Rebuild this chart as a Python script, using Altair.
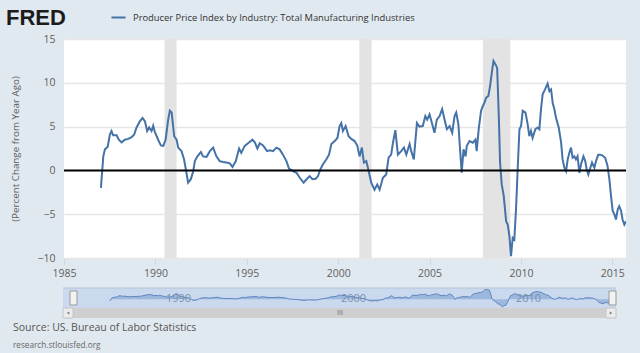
import altair as alt
import pandas as pd

# ---------------- data ----------------
years = [1987.02, 1987.15, 1987.24, 1987.39, 1987.51, 1987.6, 1987.69, 1987.88, 1988.0, 1988.15,
         1988.33, 1988.51, 1988.7, 1988.84, 1988.97, 1989.15, 1989.3, 1989.43, 1989.55, 1989.66,
         1989.79, 1989.88, 1989.97, 1990.15, 1990.3, 1990.43, 1990.56, 1990.7, 1990.79, 1990.89,
         1991.03, 1991.16, 1991.25, 1991.43, 1991.57, 1991.7, 1991.79, 1991.94, 1992.07, 1992.16,
         1992.3, 1992.49, 1992.61, 1992.8, 1992.98, 1993.16, 1993.34, 1993.52, 1993.7, 1993.89,
         1994.07, 1994.22, 1994.4, 1994.58, 1994.7, 1994.89, 1995.07, 1995.31, 1995.44, 1995.58,
         1995.71, 1995.89, 1995.98, 1996.11, 1996.26, 1996.44, 1996.62, 1996.8, 1996.98, 1997.17,
         1997.31, 1997.53, 1997.72, 1997.9, 1998.11, 1998.3, 1998.44, 1998.59, 1998.77, 1998.9,
         1999.02, 1999.17, 1999.35, 1999.5, 1999.63, 1999.81, 1999.96, 2000.08, 2000.17, 2000.26,
         2000.41, 2000.57, 2000.72, 2000.9, 2001.05, 2001.17, 2001.3, 2001.41, 2001.54, 2001.67,
         2001.81, 2001.99, 2002.14, 2002.27, 2002.45, 2002.63, 2002.76, 2002.9, 2003.0, 2003.13,
         2003.27, 2003.45, 2003.6, 2003.73, 2003.91, 2004.0, 2004.14, 2004.31, 2004.45, 2004.63,
         2004.77, 2004.87, 2005.0, 2005.13, 2005.27, 2005.4, 2005.55, 2005.69, 2005.82, 2005.95,
         2006.1, 2006.24, 2006.37, 2006.46, 2006.58, 2006.67, 2006.76, 2006.86, 2006.97, 2007.04,
         2007.19, 2007.37, 2007.51, 2007.58, 2007.69, 2007.82, 2007.91, 2008.0, 2008.1, 2008.22,
         2008.31, 2008.43, 2008.5, 2008.61, 2008.7, 2008.79, 2008.86, 2008.95, 2009.06, 2009.19,
         2009.28, 2009.37, 2009.46, 2009.55, 2009.64, 2009.73, 2009.83, 2009.92, 2010.01, 2010.1,
         2010.25, 2010.37, 2010.46, 2010.55, 2010.64, 2010.79, 2010.92, 2011.01, 2011.1, 2011.19,
         2011.32, 2011.46, 2011.56, 2011.65, 2011.74, 2011.83, 2011.92, 2012.07, 2012.2, 2012.28,
         2012.38, 2012.47, 2012.56, 2012.65, 2012.74, 2012.83, 2012.92, 2013.01, 2013.1, 2013.2,
         2013.29, 2013.42, 2013.52, 2013.6, 2013.69, 2013.8, 2013.89, 2014.02, 2014.11, 2014.23,
         2014.34, 2014.47, 2014.61, 2014.74, 2014.84, 2014.93, 2015.02, 2015.11, 2015.2, 2015.3,
         2015.38, 2015.48, 2015.56, 2015.66, 2015.75]
values = [-2.0, 1.6, 2.4, 2.7, 4.1, 4.5, 4.0, 4.0, 3.5, 3.2,
          3.5, 3.6, 3.8, 4.1, 4.9, 5.6, 6.0, 5.6, 4.5, 4.9,
          4.5, 5.1, 4.4, 3.5, 2.85, 2.8, 3.5, 5.8, 6.8, 6.6,
          3.9, 3.5, 2.6, 2.2, 1.25, -0.27, -1.4, -1.0, -0.1, 1.06,
          1.6, 2.1, 1.6, 1.55, 2.2, 2.6, 1.6, 1.06, 0.95, 0.9,
          0.8, 0.4, 1.06, 2.5, 2.0, 2.8, 3.1, 3.5, 3.2, 2.5,
          3.1, 2.85, 2.6, 2.2, 2.3, 2.2, 2.6, 2.4, 1.8, 1.06,
          0.2, -0.08, -0.27, -0.84, -1.4, -0.95, -0.65, -1.0, -0.95, -0.65,
          0.1, 0.7, 1.25, 1.8, 3.0, 3.35, 3.7, 5.06, 5.4, 4.5,
          5.06, 3.9, 3.6, 3.35, 2.8, 1.6, 2.6, 0.9, 1.06, -0.08,
          -1.4, -2.2, -1.6, -2.2, -0.84, -0.46, 1.45, 1.8, 3.16, 4.6,
          1.8, 2.2, 2.6, 1.8, 3.0, 2.2, 1.25, 5.4, 5.0, 5.06,
          6.2, 5.8, 6.4, 5.4, 4.3, 5.8, 6.2, 7.0, 5.8, 4.7,
          5.06, 4.3, 6.2, 6.6, 5.25, 2.4, -0.27, 2.4, 1.6, 2.8,
          3.35, 3.16, 3.5, 2.2, 4.7, 6.8, 7.3, 7.7, 8.3, 8.5,
          9.6, 11.5, 12.5, 12.1, 11.7, 6.2, 0.9, -1.6, -2.9, -5.8,
          -6.2, -7.5, -9.8, -7.7, -7.9, -4.5, 0.5, 4.7, 5.06, 6.8,
          6.6, 5.25, 3.9, 4.5, 3.7, 4.7, 4.9, 4.7, 7.0, 8.7,
          9.25, 9.9, 9.05, 9.25, 7.7, 7.0, 6.0, 4.9, 3.16, 1.25,
          0.3, -0.08, 1.25, 2.0, 2.6, 1.45, 1.6, 1.25, 1.6, -0.27,
          0.7, 1.6, 1.06, 0.1, -0.46, 0.3, 0.9, 0.3, 1.06, 1.8,
          1.8, 1.7, 1.45, 0.5, -1.0, -2.9, -4.6, -5.0, -5.6, -4.45,
          -4.1, -4.6, -5.6, -6.2, -5.8]
series_name = "Producer Price Index by Industry: Total Manufacturing Industries"
rec_start = [1990.5, 2001.16, 2007.92]
rec_end = [1991.16, 2001.83, 2009.42]
x_ticks = [1985, 1990, 1995, 2000, 2005, 2010, 2015]
y_ticks = [-10, -5, 0, 5, 10, 15]
nav_labels = [1990, 2000, 2010]

# ---------------- layout ----------------
W, H = 562, 219
FONT = "Open Sans"
BG = "#e1e9f0"

df = pd.DataFrame({"year": years, "value": values, "series": series_name})
rec_df = pd.DataFrame({"start": rec_start, "end": rec_end})
nav_df = pd.DataFrame({"year": nav_labels, "label": [str(v) for v in nav_labels]})
one = pd.DataFrame({"a": [0]})

xs = alt.Scale(domain=[1985, 2015.75], nice=False, zero=False)
ys = alt.Scale(domain=[-10, 15], nice=False, zero=False)

x_axis = alt.Axis(
    values=x_ticks, format="d", title=None, grid=False, domain=True,
    domainColor="#e6e6e6", ticks=True, tickColor="#ccd6eb", tickSize=6,
    labelFont=FONT, labelFontSize=10.5, labelColor="#606060", labelPadding=4,
    labelFlush=False)
y_axis = alt.Axis(
    values=y_ticks, title="(Percent Change from Year Ago)", grid=True,
    gridColor="#e6e6e6", gridWidth=1.5, domain=False, ticks=False,
    labelFont=FONT, labelFontSize=10.5, labelColor="#606060", labelPadding=9,
    titleFont=FONT, titleFontSize=9.8, titleFontWeight="normal",
    titleColor="#606060", titlePadding=16)

line = alt.Chart(df).mark_line(strokeWidth=2, clip=True).encode(
    x=alt.X("year:Q", scale=xs, axis=x_axis),
    y=alt.Y("value:Q", scale=ys, axis=y_axis),
    color=alt.Color("series:N", scale=alt.Scale(range=["#4572a7"]), legend=alt.Legend(
        orient="none", legendX=46, legendY=-30, title=None, symbolType="stroke",
        symbolStrokeWidth=2, symbolSize=200, labelFont=FONT, labelFontSize=9.4,
        labelColor="#333333", labelLimit=0, labelOffset=6)))

rec = alt.Chart(rec_df).mark_rect(color="#e3e3e3").encode(
    x=alt.X("start:Q", scale=xs, axis=x_axis), x2="end:Q",
    y=alt.value(0), y2=alt.value(H))

zero = alt.Chart(one).mark_rule(color="black", strokeWidth=2).encode(
    y=alt.datum(0, scale=ys, axis=y_axis))

fred = alt.Chart(one).mark_text(text="FRED", font="Liberation Sans", fontWeight="bold",
                                fontSize=22, align="left", baseline="alphabetic",
                                color="#1c1c1c").encode(x=alt.value(-58), y=alt.value(-14))
src = alt.Chart(one).mark_text(text="Source: US. Bureau of Labor Statistics", font=FONT,
                               fontSize=10.5, align="left", baseline="middle",
                               color="#555555").encode(x=alt.value(-51), y=alt.value(289))
web = alt.Chart(one).mark_text(text="research.stlouisfed.org", font=FONT,
                               fontSize=8.2, align="left", baseline="middle",
                               color="#666666").encode(x=alt.value(-51), y=alt.value(307))

main = alt.layer(rec, line, zero)

# ---------------- navigator ----------------
nxs = alt.Scale(domain=[1985, 2015.75], range=[10.5, 548.6], nice=False, zero=False)
nys = alt.Scale(domain=[-11, 13], range=[269, 250], nice=False, zero=False)

nav_bg = alt.Chart(one).mark_rect(color="#cad9ee").encode(
    x=alt.value(-1), x2=alt.value(552), y=alt.value(249), y2=alt.value(269))
nav_top = alt.Chart(one).mark_rule(color="#b5c3d6", strokeWidth=1).encode(
    x=alt.value(-1), x2=alt.value(552), y=alt.value(249))
nav_area = alt.Chart(df).mark_area(color="#8aa9d5", line={"color": "#5f86bf", "strokeWidth": 1}).encode(
    x=alt.X("year:Q", scale=nxs, axis=None),
    y=alt.Y("value:Q", scale=nys, axis=None),
    y2=alt.value(269))
nav_text = alt.Chart(nav_df).mark_text(font=FONT, fontSize=11, align="left", dx=4,
                                       baseline="middle", color="#7b90ad").encode(
    x=alt.X("year:Q", scale=nxs, axis=None), y=alt.value(260), text="label:N")
track = alt.Chart(one).mark_rect(color="#cfcfcf").encode(
    x=alt.value(-1), x2=alt.value(552), y=alt.value(269), y2=alt.value(279))
btn_l = alt.Chart(one).mark_rect(color="#ececec", stroke="#c4c4c4").encode(
    x=alt.value(-1), x2=alt.value(9), y=alt.value(269), y2=alt.value(279))
btn_r = alt.Chart(one).mark_rect(color="#ececec", stroke="#c4c4c4").encode(
    x=alt.value(542), x2=alt.value(552), y=alt.value(269), y2=alt.value(279))
arr_l = alt.Chart(one).mark_point(shape="triangle-left", filled=True, size=10,
                                  color="#555555").encode(x=alt.value(4), y=alt.value(274))
arr_r = alt.Chart(one).mark_point(shape="triangle-right", filled=True, size=10,
                                  color="#555555").encode(x=alt.value(547), y=alt.value(274))
grip = alt.Chart(one).mark_text(text="III", font="DejaVu Sans", fontSize=7, color="#777777",
                                baseline="middle").encode(x=alt.value(276), y=alt.value(274))
h_l = alt.Chart(one).mark_rect(color="#f2f2f2", stroke="#999999", strokeWidth=1).encode(
    x=alt.value(6), x2=alt.value(13), y=alt.value(252), y2=alt.value(266))
h_r = alt.Chart(one).mark_rect(color="#f2f2f2", stroke="#999999", strokeWidth=1).encode(
    x=alt.value(545), x2=alt.value(552), y=alt.value(252), y2=alt.value(266))

nav = alt.layer(nav_bg, nav_top, nav_area, nav_text, track, btn_l, btn_r, arr_l, arr_r,
                grip, h_l, h_r)

chart = alt.layer(main, nav, fred, src, web).resolve_scale(
    x="independent", y="independent"
).properties(
    width=W, height=H, background=BG,
    padding={"left": 64, "top": 39, "right": 14, "bottom": 95},
    autosize=alt.AutoSizeParams(type="none")
).configure_view(fill="white", stroke=None)

chart.save("out.html", embed_options={"renderer": "svg", "actions": False})
